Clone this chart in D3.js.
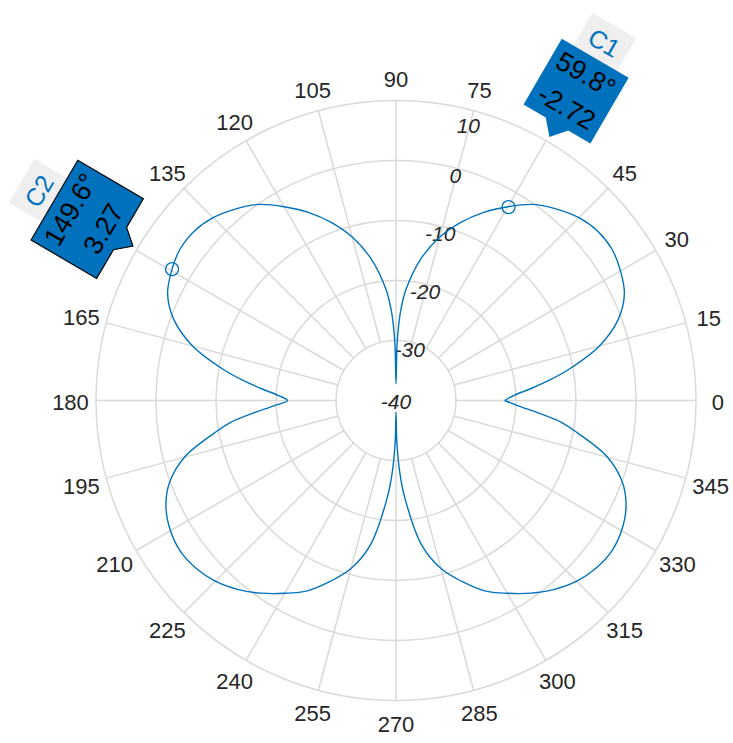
<!DOCTYPE html>
<html><head><meta charset="utf-8">
<script src="https://cdn.jsdelivr.net/npm/d3@7"></script>
<style>body{margin:0;background:#fff} svg{display:block}</style>
</head><body>
<svg id="chart" width="733" height="743"></svg>
<script>
// ---- data ----
const angles = [
  0,2.5,5,7.5,10,15,20,25,30,35,40,45,50,55,60,65,70,75,80,85,87,88,89,90,
  91,92,93,95,100,105,110,115,120,125,130,135,140,145,150,155,160,165,170,172.5,175,177.5,180,
  182.5,185,187.5,190,195,200,205,210,215,220,225,230,235,240,245,250,255,260,265,267,268,269,270,
  271,272,273,275,280,285,290,295,300,305,310,315,320,325,330,335,340,345,350,352.5,355,357.5,360
];
const gainDB = [
  -21.9,-20.3,-17.5,-14.3,-11.0,-4.9,-0.6,2.0,3.2,3.95,3.9,3.1,1.65,-0.1,-2.7,-5.4,-8.4,-11.8,-16.0,-21.6,-25.0,-27.5,-31.0,-37.2,
  -31.0,-27.5,-25.0,-21.6,-16.0,-11.8,-8.4,-5.4,-2.7,-0.1,1.65,3.1,3.9,3.95,3.2,2.0,-0.6,-4.9,-11.0,-14.3,-17.5,-20.3,-21.9,
  -19.6,-16.2,-12.2,-9.4,-3.5,0.2,2.3,3.4,3.85,3.5,2.6,1.1,-0.8,-2.9,-5.0,-7.9,-11.0,-15.6,-24.0,-28.0,-30.5,-33.5,-38.1,
  -33.5,-30.5,-28.0,-24.0,-15.6,-11.0,-7.9,-5.0,-2.9,-0.8,1.1,2.6,3.5,3.85,3.4,2.3,0.2,-3.5,-9.4,-12.2,-16.2,-19.6,-21.9
];
const magnitudeTicks = [-40,-30,-20,-10,0,10];
const angleTicks = [0,15,30,45,60,75,90,105,120,135,150,165,180,195,210,225,240,255,270,285,300,315,330,345];
const cursorNames = ["C1","C2"];
const cursorAngles = [59.8,149.6];
const cursorGains = [-2.72,3.27];

// ---- layout ----
const cx = 396, cy = 400.5, R = 300;
const FONT = "'Liberation Sans', Arial, Helvetica, sans-serif";
const BLUE = "#0072BD", GRID = "#d9d9d9", TEXT = "#262626";
const svg = d3.select("#chart");
const rScale = d3.scaleLinear().domain([magnitudeTicks[0], magnitudeTicks[magnitudeTicks.length-1]]).range([0, R]).clamp(true);
const rad = d => d * Math.PI / 180;
const toXY = (deg, r) => [cx + r * Math.cos(rad(deg)), cy - r * Math.sin(rad(deg))];

// grid circles
const gGrid = svg.append("g");
gGrid.selectAll("circle").data(magnitudeTicks.filter(v => rScale(v) > 0)).join("circle")
  .attr("cx", cx).attr("cy", cy).attr("r", d => rScale(d))
  .attr("fill", "none").attr("stroke", GRID).attr("stroke-width", 1.5);
// spokes
const rInner = rScale(magnitudeTicks[1]);
gGrid.selectAll("line").data(angleTicks).join("line")
  .attr("x1", d => toXY(d, rInner)[0]).attr("y1", d => toXY(d, rInner)[1])
  .attr("x2", d => toXY(d, R)[0]).attr("y2", d => toXY(d, R)[1])
  .attr("stroke", GRID).attr("stroke-width", 1.5);

// angle labels (those hidden under a datatip are not shown)
const gAng = svg.append("g").attr("font-family", FONT).attr("font-size", 22).attr("fill", TEXT);
angleTicks.filter(a => cursorAngles.every(c => Math.abs(c - a) > 5)).forEach(a => {
  const t = gAng.append("text").text(a).attr("text-anchor", "middle").attr("dominant-baseline", "central");
  const w = t.node().getComputedTextLength(), h = 16;
  const c = Math.abs(Math.cos(rad(a))), s = Math.abs(Math.sin(rad(a)));
  const ext = Math.min(c > 1e-6 ? (w / 2) / c : 1e9, s > 1e-6 ? (h / 2) / s : 1e9);
  const [x, y] = toXY(a, 320 + 0.3 * ext);
  t.attr("x", x).attr("y", y + 1.5);
});

// magnitude labels
const magAngle = 75.3;
const gMag = svg.append("g").attr("font-family", FONT).attr("font-size", 21).attr("font-style", "italic").attr("fill", TEXT);
magnitudeTicks.forEach((v, i) => {
  const rr = rScale(v);
  const off = i === magnitudeTicks.length - 1 ? 15 : 6;
  const [x, y] = toXY(magAngle, Math.max(0, rr - off));
  gMag.append("text").text(v).attr("x", x).attr("y", y + 1).attr("text-anchor", "middle").attr("dominant-baseline", "central");
});

// pattern curve
const pts = angles.map((a, i) => toXY(a, rScale(gainDB[i])));
svg.append("path").attr("d", d3.line().curve(d3.curveCatmullRom.alpha(0.5))(pts))
  .attr("fill", "none").attr("stroke", BLUE).attr("stroke-width", 1.4);

// cursor markers
cursorAngles.forEach((a, i) => {
  const [x, y] = toXY(a, rScale(cursorGains[i]));
  svg.append("circle").attr("cx", x).attr("cy", y).attr("r", 6.5)
    .attr("fill", "none").attr("stroke", BLUE).attr("stroke-width", 1.3);
});

// datatips
const tipR = 305, boxH = 76, ptrH = 15, ptrHalf = 13, tabH = 38, tipFS = 27;
cursorAngles.forEach((a, i) => {
  const [tx, ty] = toXY(a, tipR);
  const g = svg.append("g").attr("transform", `translate(${tx},${ty}) rotate(${90 - a})`)
    .attr("font-family", FONT);
  const lines = [a.toFixed(1) + "°", cursorGains[i].toFixed(2)];
  const tmp = g.append("text").attr("font-size", tipFS);
  const widths = lines.map(s => { tmp.text(s); return tmp.node().getComputedTextLength(); });
  tmp.text(cursorNames[i]);
  const tabW = tmp.node().getComputedTextLength() + 16;
  tmp.remove();
  const bw = Math.max(...widths) + 14;
  const top = -ptrH - boxH;
  g.append("rect").attr("x", -tabW / 2).attr("y", top - tabH).attr("width", tabW).attr("height", tabH + 2)
    .attr("fill", "#efefef");
  g.append("text").text(cursorNames[i]).attr("x", 0).attr("y", top - tabH / 2 + 1)
    .attr("text-anchor", "middle").attr("dominant-baseline", "central")
    .attr("font-size", tipFS - 2).attr("fill", BLUE);
  const poly = [[-bw / 2, top], [bw / 2, top], [bw / 2, -ptrH], [ptrHalf, -ptrH], [0, 0], [-ptrHalf, -ptrH], [-bw / 2, -ptrH]];
  g.append("path").attr("d", "M" + poly.map(p => p.join(",")).join("L") + "Z")
    .attr("fill", BLUE)
    .attr("stroke", i === 1 ? "#000" : "none").attr("stroke-width", 1.2);
  lines.forEach((s, k) => {
    g.append("text").text(s).attr("x", 0).attr("y", top + 19 + k * 38)
      .attr("text-anchor", "middle").attr("dominant-baseline", "central")
      .attr("font-size", tipFS).attr("fill", "#000");
  });
});
</script>
</body></html>
